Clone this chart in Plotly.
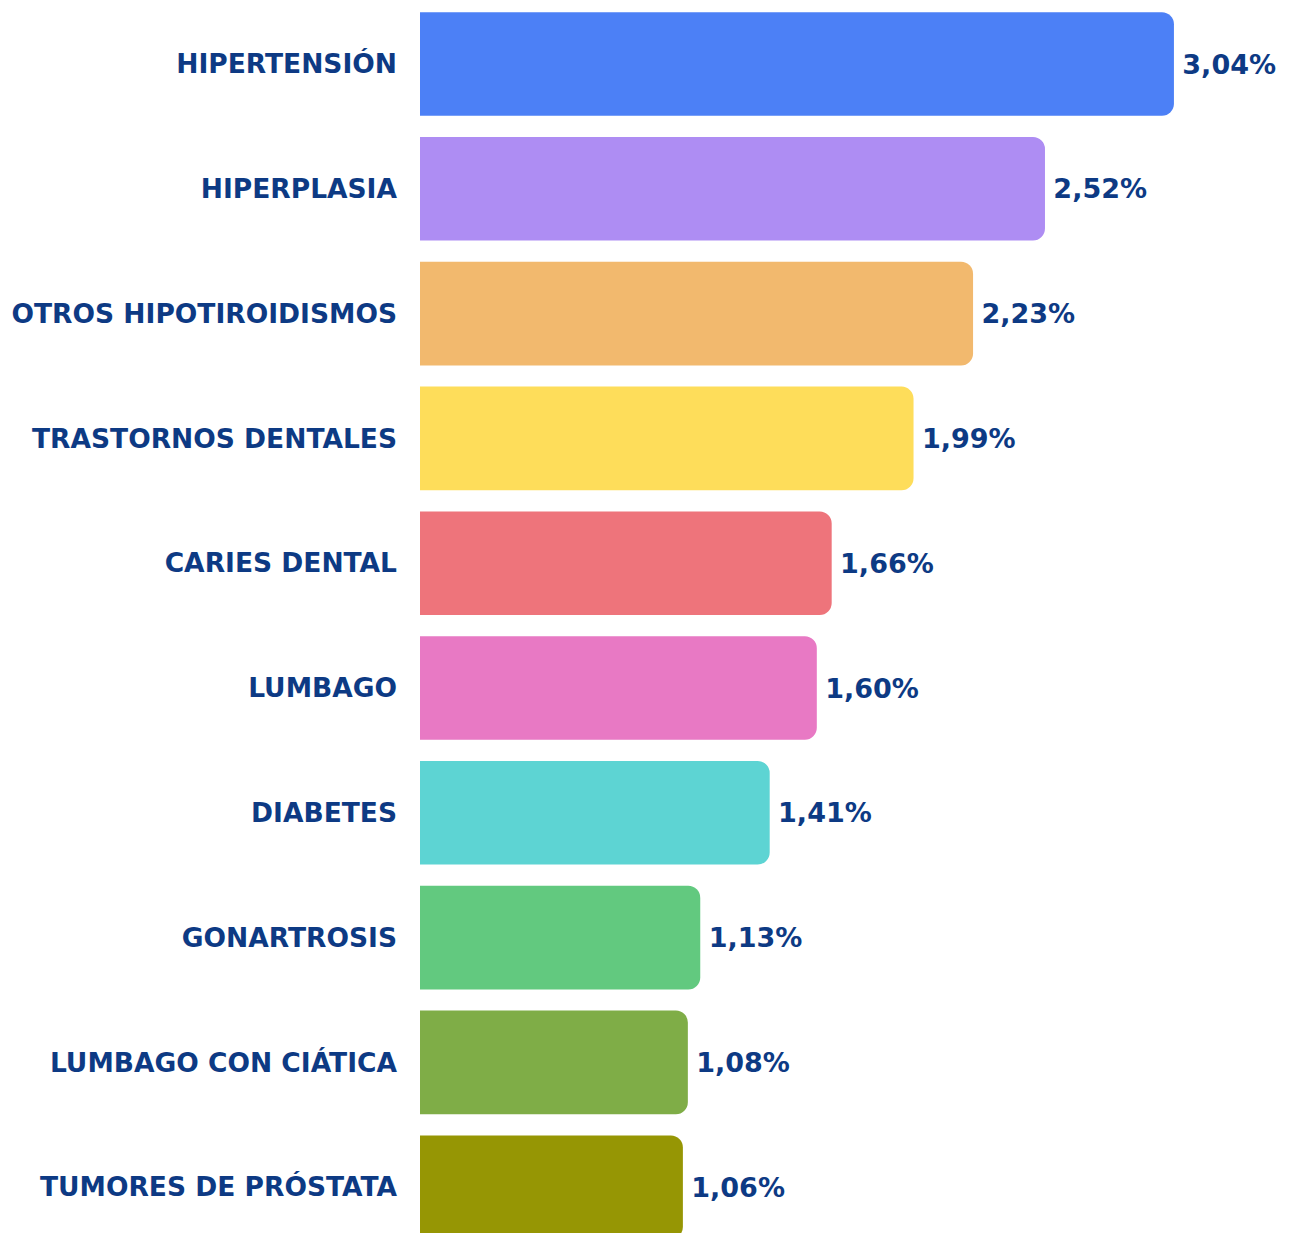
import plotly.graph_objects as go

categories = ["HIPERTENSIÓN", "HIPERPLASIA", "OTROS HIPOTIROIDISMOS", "TRASTORNOS DENTALES",
              "CARIES DENTAL", "LUMBAGO", "DIABETES", "GONARTROSIS",
              "LUMBAGO CON CIÁTICA", "TUMORES DE PRÓSTATA"]
values = [3.04, 2.52, 2.23, 1.99, 1.66, 1.60, 1.41, 1.13, 1.08, 1.06]
colors = ["#4C80F6", "#AE8DF3", "#F2B96E", "#FEDD5A", "#EE747B",
          "#E879C4", "#5DD4D3", "#62C97F", "#7FAD47", "#969604"]
value_labels = [f"{v:.2f}".replace(".", ",") + "%" for v in values]

navy = "#0D3A84"
font_family = "DejaVu Sans"

fig = go.Figure(go.Bar(
    x=values,
    y=categories,
    orientation="h",
    marker=dict(color=colors, cornerradius=12, line=dict(width=0)),
    width=0.83,
    text=["\u2009" + t for t in value_labels],
    textposition="outside",
    textfont=dict(family=font_family, size=27, color=navy, weight="bold"),
    cliponaxis=False,
    hoverinfo="skip",
))

fig.update_layout(
    width=1291,
    height=1233,
    margin=dict(l=420, r=0, t=0, b=0),
    paper_bgcolor="white",
    plot_bgcolor="white",
    showlegend=False,
    bargap=0.17,
    xaxis=dict(range=[0, 3.512], visible=False, fixedrange=True),
    yaxis=dict(
        categoryorder="array",
        categoryarray=categories,
        range=[9.367, -0.513],
        showgrid=False,
        zeroline=False,
        showline=False,
        ticks="",
        ticklabelstandoff=22,
        fixedrange=True,
        tickfont=dict(family=font_family, size=26.5, color=navy, weight="bold"),
    ),
)

fig.write_html("out.html",
               config={"displayModeBar": False},
               post_script="document.body.style.margin='0';document.body.style.overflow='hidden';")
